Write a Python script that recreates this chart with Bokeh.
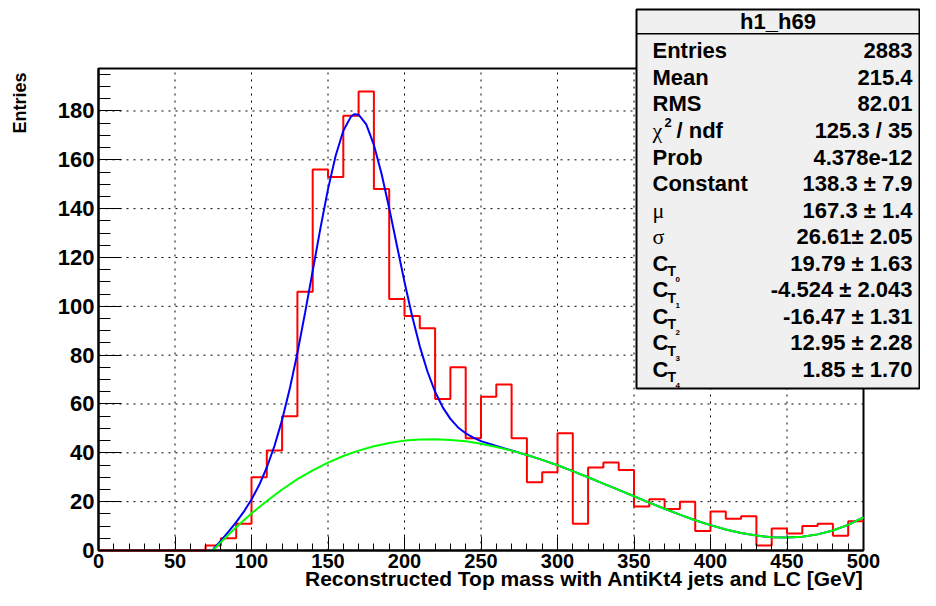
import math
from bokeh.plotting import figure
from bokeh.models import FixedTicker, Label, BoxAnnotation, Range1d
from bokeh.embed import file_html
from bokeh.resources import INLINE

# ---------------- data ----------------
bin_low = [0, 10, 20, 30, 40, 50, 60, 70, 80, 90,
           100, 110, 120, 130, 140, 150, 160, 170, 180, 190,
           200, 210, 220, 230, 240, 250, 260, 270, 280, 290,
           300, 310, 320, 330, 340, 350, 360, 370, 380, 390,
           400, 410, 420, 430, 440, 450, 460, 470, 480, 490]
bin_width = 10
counts = [0, 0, 0, 0, 0, 0, 0, 2, 5, 11,
          30, 41, 55, 106, 156, 153, 178, 188, 148, 103,
          96, 91, 62, 75, 46, 63, 68, 46, 28, 32,
          48, 11, 34, 36, 33, 18, 21, 17, 20, 8,
          16, 13, 14, 2, 9, 7, 10, 11, 6, 12]

# total fit (signal + background), blue
fit_x = [75, 80, 85, 90, 95, 100, 105, 110, 115, 120, 125, 130, 135, 140, 145,
         150, 155, 160, 165, 167.3, 170, 175, 180, 185, 190, 195, 200, 205, 210,
         215, 220, 225, 230, 235, 240, 245, 250, 260, 270, 280, 290, 300, 310,
         320, 330, 340, 350, 360, 370, 380, 390, 400, 410, 420, 430, 440, 450,
         460, 470, 480, 490, 500]
fit_y = [0.5, 4.0, 7.7, 11.6, 15.9, 20.9, 26.8, 34.0, 42.8, 53.5, 66.2, 80.9, 97.3, 114.5, 131.8,
         148.0, 161.7, 171.9, 177.7, 178.7, 178.5, 174.5, 166.1, 154.3, 140.2, 125.0, 110.0, 95.9, 83.6,
         73.3, 65.0, 58.6, 53.9, 50.4, 48.0, 46.2, 44.8, 42.8, 41.0, 39.1, 37.1, 34.9, 32.5,
         30.0, 27.4, 24.8, 22.2, 19.6, 17.1, 14.7, 12.4, 10.4, 8.6, 7.2, 6.1, 5.4, 5.3,
         5.6, 6.6, 8.2, 10.5, 13.6]

# background only, green
bkg_x = [75, 80, 85, 90, 95, 100, 110, 120, 130, 140, 150, 160, 170, 180, 190,
         200, 210, 220, 230, 240, 250, 260, 270, 280, 290, 300, 310, 320, 330,
         340, 350, 360, 370, 380, 390, 400, 410, 420, 430, 440, 450, 460, 470,
         480, 490, 500]
bkg_y = [0.1, 3.4, 6.5, 9.5, 12.4, 15.2, 20.3, 25.0, 29.2, 32.8, 36.0, 38.7, 40.9, 42.7, 44.0,
         45.0, 45.5, 45.6, 45.3, 44.7, 43.7, 42.4, 40.9, 39.1, 37.1, 34.9, 32.5, 30.0, 27.4,
         24.8, 22.2, 19.6, 17.1, 14.7, 12.4, 10.4, 8.6, 7.2, 6.1, 5.4, 5.3, 5.6, 6.6,
         8.2, 10.5, 13.6]

x_ticks = [0, 50, 100, 150, 200, 250, 300, 350, 400, 450, 500]
y_ticks = [0, 20, 40, 60, 80, 100, 120, 140, 160, 180]
x_grid = [50, 100, 150, 200, 250, 300, 350, 400, 450]
y_grid = [20, 40, 60, 80, 100, 120, 140, 160, 180]

stats_title = "h1_h69"
stat_names = ["Entries", "Mean", "RMS", "CHI", "Prob", "Constant", "\u03bc", "\u03c3",
              "C0", "C1", "C2", "C3", "C4"]
stat_values = ["2883", "215.4", "82.01", "125.3 / 35", "4.378e-12", "138.3 \u00b1 7.9",
               "167.3 \u00b1 1.4", "26.61\u00b1 2.05", "19.79 \u00b1 1.63", "-4.524 \u00b1 2.043",
               "-16.47 \u00b1 1.31", "12.95 \u00b1 2.28", "1.85 \u00b1 1.70"]

x_title = "Reconstructed Top mass with AntiKt4 jets and LC [GeV]"
y_title = "Entries"

# ---------------- layout (canvas pixels) ----------------
W, H = 920, 590
X0, X1 = 0, 500            # histogram axis ranges
Y0, Y1 = 0, 197.4
FL, FR, FT, FB = 98, 863, 68, 550   # histogram frame in canvas pixels

def dx(px):
    return X0 + (px - FL) / (FR - FL) * (X1 - X0)

def dy(py):
    return Y0 + (FB - py) / (FB - FT) * (Y1 - Y0)

FONT = "Liberation Sans"

p = figure(width=W, height=H, x_range=Range1d(dx(0), dx(W)), y_range=Range1d(dy(H), dy(0)),
           output_backend="svg", toolbar_location=None, min_border=0)
p.title.visible = False
p.background_fill_color = "white"
p.border_fill_color = "white"
p.outline_line_color = None
p.xgrid.visible = False
p.ygrid.visible = False

p.xaxis.ticker = FixedTicker(ticks=x_ticks, minor_ticks=list(range(0, 501, 10)))
p.yaxis.ticker = FixedTicker(ticks=y_ticks, minor_ticks=list(range(0, 200, 5)))
p.xaxis.fixed_location = Y0
p.yaxis.fixed_location = X0
p.xaxis.bounds = (X0, X1)
p.yaxis.bounds = (Y0, Y1)

for ax in (p.xaxis[0], p.yaxis[0]):
    ax.major_tick_out = 0
    ax.minor_tick_out = 0
    ax.axis_line_color = "black"
    ax.axis_line_width = 2
    ax.major_tick_line_color = "black"
    ax.minor_tick_line_color = "black"
    ax.major_tick_line_width = 1
    ax.minor_tick_line_width = 1
    ax.major_label_text_font = FONT
    ax.major_label_text_font_style = "bold"
    ax.major_label_text_color = "black"
p.xaxis.major_label_text_font_size = "20px"
p.yaxis.major_label_text_font_size = "22px"
p.xaxis.major_tick_in = 14
p.xaxis.minor_tick_in = 7
p.yaxis.major_tick_in = 23
p.yaxis.minor_tick_in = 12
p.xaxis.major_label_standoff = 3
p.yaxis.major_label_standoff = 4

# dotted grid lines inside the histogram frame
p.segment(x0=x_grid, y0=[Y0] * len(x_grid), x1=x_grid, y1=[Y1] * len(x_grid),
          line_color="black", line_dash="2 5", line_width=1)
p.segment(x0=[X0] * len(y_grid), y0=y_grid, x1=[X1] * len(y_grid), y1=y_grid,
          line_color="black", line_dash="2 5", line_width=1)

# histogram outline
hx = bin_low + [bin_low[-1] + bin_width]
hy = counts + [counts[-1]]
p.step(hx, hy, mode="after", line_color="#ff0000", line_width=2)

# fits
p.line(fit_x, fit_y, line_color="#0000ff", line_width=2)
p.line(bkg_x, bkg_y, line_color="#00ff00", line_width=2)

# histogram frame
p.add_layout(BoxAnnotation(left=X0, right=X1, bottom=Y0, top=Y1, fill_alpha=0.0,
                           line_color="black", line_width=2, line_alpha=1.0, level="underlay"))

# axis titles
p.add_layout(Label(x=X1, y=dy(577.5), text=x_title, text_align="right", text_baseline="middle",
                   text_font=FONT, text_font_style="bold", text_font_size="21px", text_color="black"))
p.add_layout(Label(x=dx(19), y=dy(72), text=y_title, angle=math.pi / 2, text_align="right",
                   text_baseline="middle", text_font=FONT, text_font_style="bold",
                   text_font_size="18px", text_color="black"))

# stats box
BOX_L, BOX_R = 636, 919
p.add_layout(BoxAnnotation(left=dx(BOX_L), right=dx(BOX_R), top=dy(9), bottom=dy(388),
                           fill_color="#f0f0f0", fill_alpha=1.0, line_color="black", line_width=2,
                           line_alpha=1.0))
p.add_layout(BoxAnnotation(left=dx(BOX_L), right=dx(BOX_R), top=dy(32.5), bottom=dy(34),
                           fill_color="black", fill_alpha=1.0, line_alpha=0.0))

def lab(x, y, text, size="22px", style="bold", font=FONT, align="left"):
    p.add_layout(Label(x=x, y=y, text=text, text_align=align, text_baseline="middle",
                       text_font=font, text_font_style=style, text_font_size=size,
                       text_color="black"))

lab(dx((BOX_L + BOX_R) / 2), dy(21), stats_title, align="center")

c0 = 50.4
step = 26.53
xl = 652
xr = 912
for i, (nm, val) in enumerate(zip(stat_names, stat_values)):
    c = c0 + i * step
    if nm == "CHI":
        lab(dx(xl), dy(c), "\u03c7", font="Liberation Serif", style="normal")
        lab(dx(664), dy(c - 8), "2", size="13px")
        lab(dx(676), dy(c), "/ ndf")
    elif nm in ("\u03bc", "\u03c3"):
        lab(dx(xl), dy(c), nm, font="Liberation Serif", style="normal")
    elif nm.startswith("C") and len(nm) == 2:
        lab(dx(xl), dy(c), "C")
        lab(dx(667), dy(c + 8), "T", size="14px")
        lab(dx(675), dy(c + 16), nm[1], size="8px")
    else:
        lab(dx(xl), dy(c), nm)
    lab(dx(xr), dy(c), val, align="right")

open("out.html", "w").write(file_html(p, INLINE))
